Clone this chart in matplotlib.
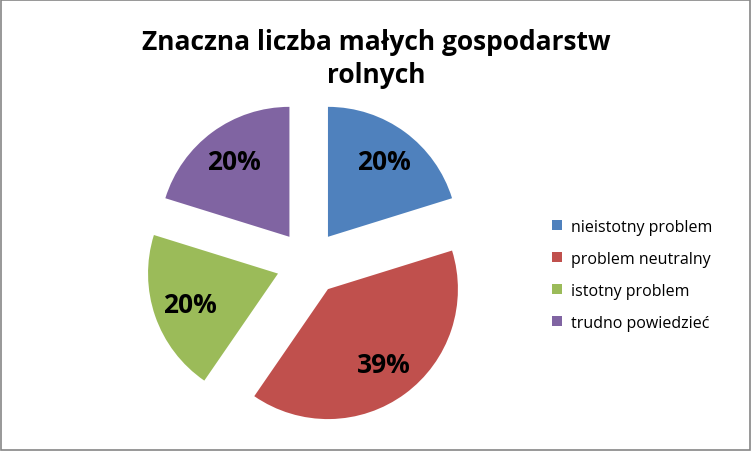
import matplotlib
matplotlib.use("Agg")
import matplotlib.pyplot as plt
from matplotlib.patches import Rectangle

labels = ["nieistotny problem", "problem neutralny", "istotny problem", "trudno powiedzieć"]
values = [20, 39, 20, 20]
colors = ["#4F81BD", "#C0504D", "#9BBB59", "#8064A2"]
title = "Znaczna liczba małych gospodarstw\nrolnych"

plt.rcParams['font.family'] = ['Open Sans', 'DejaVu Sans']
fig = plt.figure(figsize=(7.52, 4.52), dpi=100)
fig.patches.append(Rectangle((0.001, 0.002), 0.997, 0.996, transform=fig.transFigure,
                             fill=False, edgecolor="#868686", linewidth=1.2))
ax = fig.add_axes([0.134, -0.044, 0.553, 0.92])
wedges, texts, autotexts = ax.pie(values, colors=colors, startangle=90, counterclock=False,
       explode=[0.25] * 4, autopct=lambda p: f"{p:.0f}%", pctdistance=0.72,
       textprops=dict(fontsize=19, fontweight="bold", color="black"))
ax.set_xlim(-1.6, 1.6)
ax.set_ylim(-1.6, 1.6)
ax.set_aspect("equal")
fig.text(0.5, 0.87, title, ha="center", va="center", fontsize=19, fontweight="bold",
         linespacing=1.3)
fig.legend(wedges, labels, loc="center left", bbox_to_anchor=(0.715, 0.39), frameon=False,
           fontsize=11.5, handlelength=0.6, handleheight=0.6, labelspacing=1.0, handletextpad=0.6)
fig.savefig("out.png", dpi=100)
